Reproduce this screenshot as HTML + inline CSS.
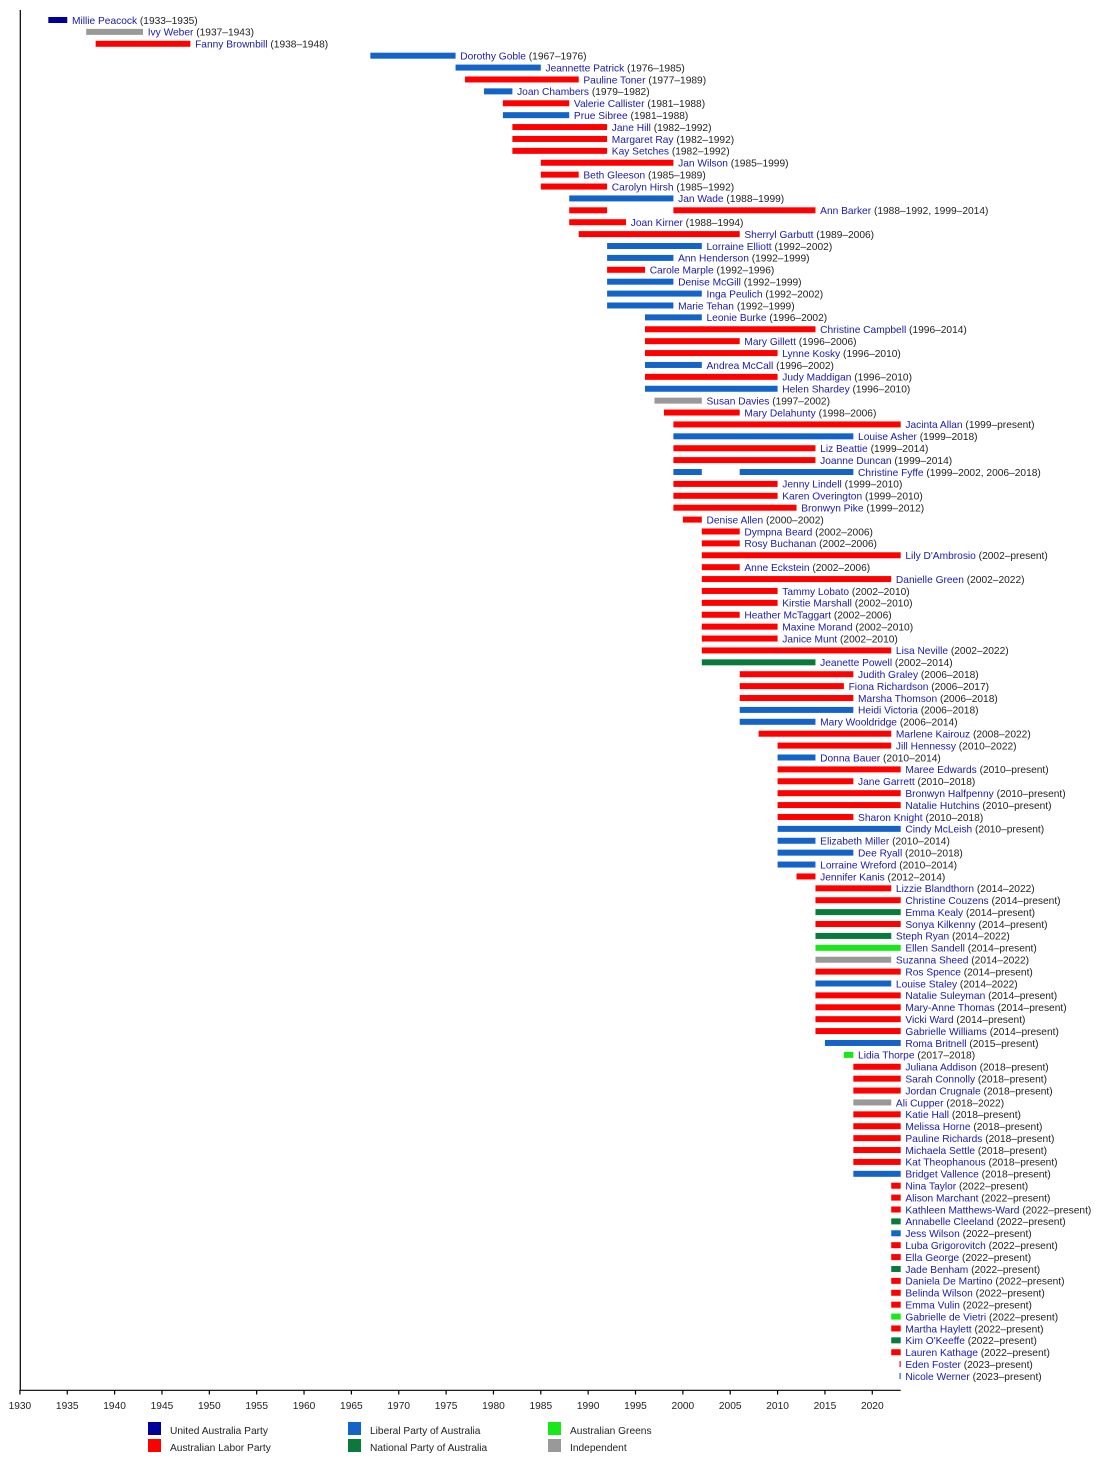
<!DOCTYPE html>
<html><head><meta charset="utf-8"><style>
html,body{margin:0;padding:0;background:#fff}
svg{display:block}
text{font-family:"Liberation Sans",Arial,sans-serif;font-size:10.2px;fill:#222}
.n{fill:#1a1aa8}
.a{fill:#ff0000}.l{fill:#1464c8}.nt{fill:#0a7a3c}.g{fill:#18e818}.i{fill:#999999}.u{fill:#000099}
</style></head><body>
<svg width="1100" height="1470" viewBox="0 0 1100 1470" xmlns="http://www.w3.org/2000/svg">
<rect width="1100" height="1470" fill="#fff"/>
<g>
<g transform="translate(0,20)"><rect class="u" x="48.31" y="-3" width="18.95" height="6"/><text x="71.96" y="3.8"><tspan class="n">Millie Peacock</tspan> (1933–1935)</text></g>
<g transform="translate(0,31.895)"><rect class="i" x="86.20" y="-3" width="56.82" height="6"/><text x="147.72" y="3.8"><tspan class="n">Ivy Weber</tspan> (1937–1943)</text></g>
<g transform="translate(0,43.79)"><rect class="a" x="95.67" y="-3" width="94.71" height="6"/><text x="195.08" y="3.8"><tspan class="n">Fanny Brownbill</tspan> (1938–1948)</text></g>
<g transform="translate(0,55.685)"><rect class="l" x="370.33" y="-3" width="85.24" height="6"/><text x="460.27" y="3.8"><tspan class="n">Dorothy Goble</tspan> (1967–1976)</text></g>
<g transform="translate(0,67.58)"><rect class="l" x="455.57" y="-3" width="85.24" height="6"/><text x="545.51" y="3.8"><tspan class="n">Jeannette Patrick</tspan> (1976–1985)</text></g>
<g transform="translate(0,79.475)"><rect class="a" x="465.04" y="-3" width="113.65" height="6"/><text x="583.39" y="3.8"><tspan class="n">Pauline Toner</tspan> (1977–1989)</text></g>
<g transform="translate(0,91.37)"><rect class="l" x="483.98" y="-3" width="28.41" height="6"/><text x="517.09" y="3.8"><tspan class="n">Joan Chambers</tspan> (1979–1982)</text></g>
<g transform="translate(0,103.265)"><rect class="a" x="502.92" y="-3" width="66.30" height="6"/><text x="573.92" y="3.8"><tspan class="n">Valerie Callister</tspan> (1981–1988)</text></g>
<g transform="translate(0,115.16)"><rect class="l" x="502.92" y="-3" width="66.30" height="6"/><text x="573.92" y="3.8"><tspan class="n">Prue Sibree</tspan> (1981–1988)</text></g>
<g transform="translate(0,127.055)"><rect class="a" x="512.39" y="-3" width="94.71" height="6"/><text x="611.8" y="3.8"><tspan class="n">Jane Hill</tspan> (1982–1992)</text></g>
<g transform="translate(0,138.95)"><rect class="a" x="512.39" y="-3" width="94.71" height="6"/><text x="611.8" y="3.8"><tspan class="n">Margaret Ray</tspan> (1982–1992)</text></g>
<g transform="translate(0,150.845)"><rect class="a" x="512.39" y="-3" width="94.71" height="6"/><text x="611.8" y="3.8"><tspan class="n">Kay Setches</tspan> (1982–1992)</text></g>
<g transform="translate(0,162.74)"><rect class="a" x="540.81" y="-3" width="132.59" height="6"/><text x="678.1" y="3.8"><tspan class="n">Jan Wilson</tspan> (1985–1999)</text></g>
<g transform="translate(0,174.635)"><rect class="a" x="540.81" y="-3" width="37.88" height="6"/><text x="583.39" y="3.8"><tspan class="n">Beth Gleeson</tspan> (1985–1989)</text></g>
<g transform="translate(0,186.53)"><rect class="a" x="540.81" y="-3" width="66.29" height="6"/><text x="611.8" y="3.8"><tspan class="n">Carolyn Hirsh</tspan> (1985–1992)</text></g>
<g transform="translate(0,198.425)"><rect class="l" x="569.22" y="-3" width="104.18" height="6"/><text x="678.1" y="3.8"><tspan class="n">Jan Wade</tspan> (1988–1999)</text></g>
<g transform="translate(0,210.32)"><rect class="a" x="569.22" y="-3" width="37.88" height="6"/><rect class="a" x="673.40" y="-3" width="142.06" height="6"/><text x="820.16" y="3.8"><tspan class="n">Ann Barker</tspan> (1988–1992, 1999–2014)</text></g>
<g transform="translate(0,222.215)"><rect class="a" x="569.22" y="-3" width="56.82" height="6"/><text x="630.74" y="3.8"><tspan class="n">Joan Kirner</tspan> (1988–1994)</text></g>
<g transform="translate(0,234.11)"><rect class="a" x="578.69" y="-3" width="161.01" height="6"/><text x="744.4" y="3.8"><tspan class="n">Sherryl Garbutt</tspan> (1989–2006)</text></g>
<g transform="translate(0,246.005)"><rect class="l" x="607.10" y="-3" width="94.71" height="6"/><text x="706.51" y="3.8"><tspan class="n">Lorraine Elliott</tspan> (1992–2002)</text></g>
<g transform="translate(0,257.9)"><rect class="l" x="607.10" y="-3" width="66.30" height="6"/><text x="678.1" y="3.8"><tspan class="n">Ann Henderson</tspan> (1992–1999)</text></g>
<g transform="translate(0,269.795)"><rect class="a" x="607.10" y="-3" width="37.89" height="6"/><text x="649.69" y="3.8"><tspan class="n">Carole Marple</tspan> (1992–1996)</text></g>
<g transform="translate(0,281.69)"><rect class="l" x="607.10" y="-3" width="66.30" height="6"/><text x="678.1" y="3.8"><tspan class="n">Denise McGill</tspan> (1992–1999)</text></g>
<g transform="translate(0,293.585)"><rect class="l" x="607.10" y="-3" width="94.71" height="6"/><text x="706.51" y="3.8"><tspan class="n">Inga Peulich</tspan> (1992–2002)</text></g>
<g transform="translate(0,305.48)"><rect class="l" x="607.10" y="-3" width="66.30" height="6"/><text x="678.1" y="3.8"><tspan class="n">Marie Tehan</tspan> (1992–1999)</text></g>
<g transform="translate(0,317.375)"><rect class="l" x="644.99" y="-3" width="56.82" height="6"/><text x="706.51" y="3.8"><tspan class="n">Leonie Burke</tspan> (1996–2002)</text></g>
<g transform="translate(0,329.27)"><rect class="a" x="644.99" y="-3" width="170.47" height="6"/><text x="820.16" y="3.8"><tspan class="n">Christine Campbell</tspan> (1996–2014)</text></g>
<g transform="translate(0,341.165)"><rect class="a" x="644.99" y="-3" width="94.71" height="6"/><text x="744.4" y="3.8"><tspan class="n">Mary Gillett</tspan> (1996–2006)</text></g>
<g transform="translate(0,353.06)"><rect class="a" x="644.99" y="-3" width="132.59" height="6"/><text x="782.28" y="3.8"><tspan class="n">Lynne Kosky</tspan> (1996–2010)</text></g>
<g transform="translate(0,364.955)"><rect class="l" x="644.99" y="-3" width="56.82" height="6"/><text x="706.51" y="3.8"><tspan class="n">Andrea McCall</tspan> (1996–2002)</text></g>
<g transform="translate(0,376.85)"><rect class="a" x="644.99" y="-3" width="132.59" height="6"/><text x="782.28" y="3.8"><tspan class="n">Judy Maddigan</tspan> (1996–2010)</text></g>
<g transform="translate(0,388.745)"><rect class="l" x="644.99" y="-3" width="132.59" height="6"/><text x="782.28" y="3.8"><tspan class="n">Helen Shardey</tspan> (1996–2010)</text></g>
<g transform="translate(0,400.64)"><rect class="i" x="654.46" y="-3" width="47.35" height="6"/><text x="706.51" y="3.8"><tspan class="n">Susan Davies</tspan> (1997–2002)</text></g>
<g transform="translate(0,412.535)"><rect class="a" x="663.93" y="-3" width="75.77" height="6"/><text x="744.4" y="3.8"><tspan class="n">Mary Delahunty</tspan> (1998–2006)</text></g>
<g transform="translate(0,424.43)"><rect class="a" x="673.40" y="-3" width="227.30" height="6"/><text x="905.4" y="3.8"><tspan class="n">Jacinta Allan</tspan> (1999–present)</text></g>
<g transform="translate(0,436.325)"><rect class="l" x="673.40" y="-3" width="179.95" height="6"/><text x="858.05" y="3.8"><tspan class="n">Louise Asher</tspan> (1999–2018)</text></g>
<g transform="translate(0,448.22)"><rect class="a" x="673.40" y="-3" width="142.06" height="6"/><text x="820.16" y="3.8"><tspan class="n">Liz Beattie</tspan> (1999–2014)</text></g>
<g transform="translate(0,460.115)"><rect class="a" x="673.40" y="-3" width="142.06" height="6"/><text x="820.16" y="3.8"><tspan class="n">Joanne Duncan</tspan> (1999–2014)</text></g>
<g transform="translate(0,472.01)"><rect class="l" x="673.40" y="-3" width="28.41" height="6"/><rect class="l" x="739.70" y="-3" width="113.65" height="6"/><text x="858.05" y="3.8"><tspan class="n">Christine Fyffe</tspan> (1999–2002, 2006–2018)</text></g>
<g transform="translate(0,483.905)"><rect class="a" x="673.40" y="-3" width="104.18" height="6"/><text x="782.28" y="3.8"><tspan class="n">Jenny Lindell</tspan> (1999–2010)</text></g>
<g transform="translate(0,495.8)"><rect class="a" x="673.40" y="-3" width="104.18" height="6"/><text x="782.28" y="3.8"><tspan class="n">Karen Overington</tspan> (1999–2010)</text></g>
<g transform="translate(0,507.695)"><rect class="a" x="673.40" y="-3" width="123.12" height="6"/><text x="801.22" y="3.8"><tspan class="n">Bronwyn Pike</tspan> (1999–2012)</text></g>
<g transform="translate(0,519.59)"><rect class="a" x="682.87" y="-3" width="18.94" height="6"/><text x="706.51" y="3.8"><tspan class="n">Denise Allen</tspan> (2000–2002)</text></g>
<g transform="translate(0,531.485)"><rect class="a" x="701.81" y="-3" width="37.89" height="6"/><text x="744.4" y="3.8"><tspan class="n">Dympna Beard</tspan> (2002–2006)</text></g>
<g transform="translate(0,543.38)"><rect class="a" x="701.81" y="-3" width="37.89" height="6"/><text x="744.4" y="3.8"><tspan class="n">Rosy Buchanan</tspan> (2002–2006)</text></g>
<g transform="translate(0,555.275)"><rect class="a" x="701.81" y="-3" width="198.89" height="6"/><text x="905.4" y="3.8"><tspan class="n">Lily D'Ambrosio</tspan> (2002–present)</text></g>
<g transform="translate(0,567.17)"><rect class="a" x="701.81" y="-3" width="37.89" height="6"/><text x="744.4" y="3.8"><tspan class="n">Anne Eckstein</tspan> (2002–2006)</text></g>
<g transform="translate(0,579.065)"><rect class="a" x="701.81" y="-3" width="189.42" height="6"/><text x="895.93" y="3.8"><tspan class="n">Danielle Green</tspan> (2002–2022)</text></g>
<g transform="translate(0,590.96)"><rect class="a" x="701.81" y="-3" width="75.77" height="6"/><text x="782.28" y="3.8"><tspan class="n">Tammy Lobato</tspan> (2002–2010)</text></g>
<g transform="translate(0,602.855)"><rect class="a" x="701.81" y="-3" width="75.77" height="6"/><text x="782.28" y="3.8"><tspan class="n">Kirstie Marshall</tspan> (2002–2010)</text></g>
<g transform="translate(0,614.75)"><rect class="a" x="701.81" y="-3" width="37.89" height="6"/><text x="744.4" y="3.8"><tspan class="n">Heather McTaggart</tspan> (2002–2006)</text></g>
<g transform="translate(0,626.645)"><rect class="a" x="701.81" y="-3" width="75.77" height="6"/><text x="782.28" y="3.8"><tspan class="n">Maxine Morand</tspan> (2002–2010)</text></g>
<g transform="translate(0,638.54)"><rect class="a" x="701.81" y="-3" width="75.77" height="6"/><text x="782.28" y="3.8"><tspan class="n">Janice Munt</tspan> (2002–2010)</text></g>
<g transform="translate(0,650.435)"><rect class="a" x="701.81" y="-3" width="189.42" height="6"/><text x="895.93" y="3.8"><tspan class="n">Lisa Neville</tspan> (2002–2022)</text></g>
<g transform="translate(0,662.33)"><rect class="nt" x="701.81" y="-3" width="113.65" height="6"/><text x="820.16" y="3.8"><tspan class="n">Jeanette Powell</tspan> (2002–2014)</text></g>
<g transform="translate(0,674.225)"><rect class="a" x="739.70" y="-3" width="113.65" height="6"/><text x="858.05" y="3.8"><tspan class="n">Judith Graley</tspan> (2006–2018)</text></g>
<g transform="translate(0,686.12)"><rect class="a" x="739.70" y="-3" width="104.18" height="6"/><text x="848.58" y="3.8"><tspan class="n">Fiona Richardson</tspan> (2006–2017)</text></g>
<g transform="translate(0,698.015)"><rect class="a" x="739.70" y="-3" width="113.65" height="6"/><text x="858.05" y="3.8"><tspan class="n">Marsha Thomson</tspan> (2006–2018)</text></g>
<g transform="translate(0,709.91)"><rect class="l" x="739.70" y="-3" width="113.65" height="6"/><text x="858.05" y="3.8"><tspan class="n">Heidi Victoria</tspan> (2006–2018)</text></g>
<g transform="translate(0,721.805)"><rect class="l" x="739.70" y="-3" width="75.76" height="6"/><text x="820.16" y="3.8"><tspan class="n">Mary Wooldridge</tspan> (2006–2014)</text></g>
<g transform="translate(0,733.7)"><rect class="a" x="758.64" y="-3" width="132.59" height="6"/><text x="895.93" y="3.8"><tspan class="n">Marlene Kairouz</tspan> (2008–2022)</text></g>
<g transform="translate(0,745.595)"><rect class="a" x="777.58" y="-3" width="113.65" height="6"/><text x="895.93" y="3.8"><tspan class="n">Jill Hennessy</tspan> (2010–2022)</text></g>
<g transform="translate(0,757.49)"><rect class="l" x="777.58" y="-3" width="37.88" height="6"/><text x="820.16" y="3.8"><tspan class="n">Donna Bauer</tspan> (2010–2014)</text></g>
<g transform="translate(0,769.385)"><rect class="a" x="777.58" y="-3" width="123.12" height="6"/><text x="905.4" y="3.8"><tspan class="n">Maree Edwards</tspan> (2010–present)</text></g>
<g transform="translate(0,781.28)"><rect class="a" x="777.58" y="-3" width="75.77" height="6"/><text x="858.05" y="3.8"><tspan class="n">Jane Garrett</tspan> (2010–2018)</text></g>
<g transform="translate(0,793.175)"><rect class="a" x="777.58" y="-3" width="123.12" height="6"/><text x="905.4" y="3.8"><tspan class="n">Bronwyn Halfpenny</tspan> (2010–present)</text></g>
<g transform="translate(0,805.07)"><rect class="a" x="777.58" y="-3" width="123.12" height="6"/><text x="905.4" y="3.8"><tspan class="n">Natalie Hutchins</tspan> (2010–present)</text></g>
<g transform="translate(0,816.965)"><rect class="a" x="777.58" y="-3" width="75.77" height="6"/><text x="858.05" y="3.8"><tspan class="n">Sharon Knight</tspan> (2010–2018)</text></g>
<g transform="translate(0,828.86)"><rect class="l" x="777.58" y="-3" width="123.12" height="6"/><text x="905.4" y="3.8"><tspan class="n">Cindy McLeish</tspan> (2010–present)</text></g>
<g transform="translate(0,840.755)"><rect class="l" x="777.58" y="-3" width="37.88" height="6"/><text x="820.16" y="3.8"><tspan class="n">Elizabeth Miller</tspan> (2010–2014)</text></g>
<g transform="translate(0,852.65)"><rect class="l" x="777.58" y="-3" width="75.77" height="6"/><text x="858.05" y="3.8"><tspan class="n">Dee Ryall</tspan> (2010–2018)</text></g>
<g transform="translate(0,864.545)"><rect class="l" x="777.58" y="-3" width="37.88" height="6"/><text x="820.16" y="3.8"><tspan class="n">Lorraine Wreford</tspan> (2010–2014)</text></g>
<g transform="translate(0,876.44)"><rect class="a" x="796.52" y="-3" width="18.94" height="6"/><text x="820.16" y="3.8"><tspan class="n">Jennifer Kanis</tspan> (2012–2014)</text></g>
<g transform="translate(0,888.335)"><rect class="a" x="815.46" y="-3" width="75.77" height="6"/><text x="895.93" y="3.8"><tspan class="n">Lizzie Blandthorn</tspan> (2014–2022)</text></g>
<g transform="translate(0,900.23)"><rect class="a" x="815.46" y="-3" width="85.24" height="6"/><text x="905.4" y="3.8"><tspan class="n">Christine Couzens</tspan> (2014–present)</text></g>
<g transform="translate(0,912.125)"><rect class="nt" x="815.46" y="-3" width="85.24" height="6"/><text x="905.4" y="3.8"><tspan class="n">Emma Kealy</tspan> (2014–present)</text></g>
<g transform="translate(0,924.02)"><rect class="a" x="815.46" y="-3" width="85.24" height="6"/><text x="905.4" y="3.8"><tspan class="n">Sonya Kilkenny</tspan> (2014–present)</text></g>
<g transform="translate(0,935.915)"><rect class="nt" x="815.46" y="-3" width="75.77" height="6"/><text x="895.93" y="3.8"><tspan class="n">Steph Ryan</tspan> (2014–2022)</text></g>
<g transform="translate(0,947.81)"><rect class="g" x="815.46" y="-3" width="85.24" height="6"/><text x="905.4" y="3.8"><tspan class="n">Ellen Sandell</tspan> (2014–present)</text></g>
<g transform="translate(0,959.705)"><rect class="i" x="815.46" y="-3" width="75.77" height="6"/><text x="895.93" y="3.8"><tspan class="n">Suzanna Sheed</tspan> (2014–2022)</text></g>
<g transform="translate(0,971.6)"><rect class="a" x="815.46" y="-3" width="85.24" height="6"/><text x="905.4" y="3.8"><tspan class="n">Ros Spence</tspan> (2014–present)</text></g>
<g transform="translate(0,983.495)"><rect class="l" x="815.46" y="-3" width="75.77" height="6"/><text x="895.93" y="3.8"><tspan class="n">Louise Staley</tspan> (2014–2022)</text></g>
<g transform="translate(0,995.39)"><rect class="a" x="815.46" y="-3" width="85.24" height="6"/><text x="905.4" y="3.8"><tspan class="n">Natalie Suleyman</tspan> (2014–present)</text></g>
<g transform="translate(0,1007.285)"><rect class="a" x="815.46" y="-3" width="85.24" height="6"/><text x="905.4" y="3.8"><tspan class="n">Mary-Anne Thomas</tspan> (2014–present)</text></g>
<g transform="translate(0,1019.18)"><rect class="a" x="815.46" y="-3" width="85.24" height="6"/><text x="905.4" y="3.8"><tspan class="n">Vicki Ward</tspan> (2014–present)</text></g>
<g transform="translate(0,1031.075)"><rect class="a" x="815.46" y="-3" width="85.24" height="6"/><text x="905.4" y="3.8"><tspan class="n">Gabrielle Williams</tspan> (2014–present)</text></g>
<g transform="translate(0,1042.97)"><rect class="l" x="824.94" y="-3" width="75.76" height="6"/><text x="905.4" y="3.8"><tspan class="n">Roma Britnell</tspan> (2015–present)</text></g>
<g transform="translate(0,1054.865)"><rect class="g" x="843.88" y="-3" width="9.47" height="6"/><text x="858.05" y="3.8"><tspan class="n">Lidia Thorpe</tspan> (2017–2018)</text></g>
<g transform="translate(0,1066.76)"><rect class="a" x="853.35" y="-3" width="47.35" height="6"/><text x="905.4" y="3.8"><tspan class="n">Juliana Addison</tspan> (2018–present)</text></g>
<g transform="translate(0,1078.655)"><rect class="a" x="853.35" y="-3" width="47.35" height="6"/><text x="905.4" y="3.8"><tspan class="n">Sarah Connolly</tspan> (2018–present)</text></g>
<g transform="translate(0,1090.55)"><rect class="a" x="853.35" y="-3" width="47.35" height="6"/><text x="905.4" y="3.8"><tspan class="n">Jordan Crugnale</tspan> (2018–present)</text></g>
<g transform="translate(0,1102.445)"><rect class="i" x="853.35" y="-3" width="37.88" height="6"/><text x="895.93" y="3.8"><tspan class="n">Ali Cupper</tspan> (2018–2022)</text></g>
<g transform="translate(0,1114.34)"><rect class="a" x="853.35" y="-3" width="47.35" height="6"/><text x="905.4" y="3.8"><tspan class="n">Katie Hall</tspan> (2018–present)</text></g>
<g transform="translate(0,1126.235)"><rect class="a" x="853.35" y="-3" width="47.35" height="6"/><text x="905.4" y="3.8"><tspan class="n">Melissa Horne</tspan> (2018–present)</text></g>
<g transform="translate(0,1138.13)"><rect class="a" x="853.35" y="-3" width="47.35" height="6"/><text x="905.4" y="3.8"><tspan class="n">Pauline Richards</tspan> (2018–present)</text></g>
<g transform="translate(0,1150.025)"><rect class="a" x="853.35" y="-3" width="47.35" height="6"/><text x="905.4" y="3.8"><tspan class="n">Michaela Settle</tspan> (2018–present)</text></g>
<g transform="translate(0,1161.92)"><rect class="a" x="853.35" y="-3" width="47.35" height="6"/><text x="905.4" y="3.8"><tspan class="n">Kat Theophanous</tspan> (2018–present)</text></g>
<g transform="translate(0,1173.815)"><rect class="l" x="853.35" y="-3" width="47.35" height="6"/><text x="905.4" y="3.8"><tspan class="n">Bridget Vallence</tspan> (2018–present)</text></g>
<g transform="translate(0,1185.71)"><rect class="a" x="891.23" y="-3" width="9.47" height="6"/><text x="905.4" y="3.8"><tspan class="n">Nina Taylor</tspan> (2022–present)</text></g>
<g transform="translate(0,1197.605)"><rect class="a" x="891.23" y="-3" width="9.47" height="6"/><text x="905.4" y="3.8"><tspan class="n">Alison Marchant</tspan> (2022–present)</text></g>
<g transform="translate(0,1209.5)"><rect class="a" x="891.23" y="-3" width="9.47" height="6"/><text x="905.4" y="3.8"><tspan class="n">Kathleen Matthews-Ward</tspan> (2022–present)</text></g>
<g transform="translate(0,1221.395)"><rect class="nt" x="891.23" y="-3" width="9.47" height="6"/><text x="905.4" y="3.8"><tspan class="n">Annabelle Cleeland</tspan> (2022–present)</text></g>
<g transform="translate(0,1233.29)"><rect class="l" x="891.23" y="-3" width="9.47" height="6"/><text x="905.4" y="3.8"><tspan class="n">Jess Wilson</tspan> (2022–present)</text></g>
<g transform="translate(0,1245.185)"><rect class="a" x="891.23" y="-3" width="9.47" height="6"/><text x="905.4" y="3.8"><tspan class="n">Luba Grigorovitch</tspan> (2022–present)</text></g>
<g transform="translate(0,1257.08)"><rect class="a" x="891.23" y="-3" width="9.47" height="6"/><text x="905.4" y="3.8"><tspan class="n">Ella George</tspan> (2022–present)</text></g>
<g transform="translate(0,1268.975)"><rect class="nt" x="891.23" y="-3" width="9.47" height="6"/><text x="905.4" y="3.8"><tspan class="n">Jade Benham</tspan> (2022–present)</text></g>
<g transform="translate(0,1280.87)"><rect class="a" x="891.23" y="-3" width="9.47" height="6"/><text x="905.4" y="3.8"><tspan class="n">Daniela De Martino</tspan> (2022–present)</text></g>
<g transform="translate(0,1292.765)"><rect class="a" x="891.23" y="-3" width="9.47" height="6"/><text x="905.4" y="3.8"><tspan class="n">Belinda Wilson</tspan> (2022–present)</text></g>
<g transform="translate(0,1304.66)"><rect class="a" x="891.23" y="-3" width="9.47" height="6"/><text x="905.4" y="3.8"><tspan class="n">Emma Vulin</tspan> (2022–present)</text></g>
<g transform="translate(0,1316.555)"><rect class="g" x="891.23" y="-3" width="9.47" height="6"/><text x="905.4" y="3.8"><tspan class="n">Gabrielle de Vietri</tspan> (2022–present)</text></g>
<g transform="translate(0,1328.45)"><rect class="a" x="891.23" y="-3" width="9.47" height="6"/><text x="905.4" y="3.8"><tspan class="n">Martha Haylett</tspan> (2022–present)</text></g>
<g transform="translate(0,1340.345)"><rect class="nt" x="891.23" y="-3" width="9.47" height="6"/><text x="905.4" y="3.8"><tspan class="n">Kim O'Keeffe</tspan> (2022–present)</text></g>
<g transform="translate(0,1352.24)"><rect class="a" x="891.23" y="-3" width="9.47" height="6"/><text x="905.4" y="3.8"><tspan class="n">Lauren Kathage</tspan> (2022–present)</text></g>
<g transform="translate(0,1364.135)"><rect class="a" x="899.5" y="-3" width="1.2" height="6"/><text x="905.4" y="3.8"><tspan class="n">Eden Foster</tspan> (2023–present)</text></g>
<g transform="translate(0,1376.03)"><rect class="l" x="899.5" y="-3" width="1.2" height="6"/><text x="905.4" y="3.8"><tspan class="n">Nicole Werner</tspan> (2023–present)</text></g>
</g>
<!-- axes -->
<g stroke="#000" stroke-width="1.2" fill="none">
<line x1="20.3" y1="10" x2="20.3" y2="1390.5"/>
<line x1="19.7" y1="1390.3" x2="900.7" y2="1390.3"/>
<line x1="19.9" y1="1390" x2="19.9" y2="1394.5"/>
<line x1="67.26" y1="1390" x2="67.26" y2="1394.5"/>
<line x1="114.61" y1="1390" x2="114.61" y2="1394.5"/>
<line x1="161.97" y1="1390" x2="161.97" y2="1394.5"/>
<line x1="209.32" y1="1390" x2="209.32" y2="1394.5"/>
<line x1="256.68" y1="1390" x2="256.68" y2="1394.5"/>
<line x1="304.03" y1="1390" x2="304.03" y2="1394.5"/>
<line x1="351.39" y1="1390" x2="351.39" y2="1394.5"/>
<line x1="398.74" y1="1390" x2="398.74" y2="1394.5"/>
<line x1="446.10" y1="1390" x2="446.10" y2="1394.5"/>
<line x1="493.45" y1="1390" x2="493.45" y2="1394.5"/>
<line x1="540.81" y1="1390" x2="540.81" y2="1394.5"/>
<line x1="588.16" y1="1390" x2="588.16" y2="1394.5"/>
<line x1="635.52" y1="1390" x2="635.52" y2="1394.5"/>
<line x1="682.87" y1="1390" x2="682.87" y2="1394.5"/>
<line x1="730.23" y1="1390" x2="730.23" y2="1394.5"/>
<line x1="777.58" y1="1390" x2="777.58" y2="1394.5"/>
<line x1="824.94" y1="1390" x2="824.94" y2="1394.5"/>
<line x1="872.29" y1="1390" x2="872.29" y2="1394.5"/>
</g>
<g text-anchor="middle">
<text x="19.9" y="1409">1930</text>
<text x="67.26" y="1409">1935</text>
<text x="114.61" y="1409">1940</text>
<text x="161.97" y="1409">1945</text>
<text x="209.32" y="1409">1950</text>
<text x="256.68" y="1409">1955</text>
<text x="304.03" y="1409">1960</text>
<text x="351.39" y="1409">1965</text>
<text x="398.74" y="1409">1970</text>
<text x="446.10" y="1409">1975</text>
<text x="493.45" y="1409">1980</text>
<text x="540.81" y="1409">1985</text>
<text x="588.16" y="1409">1990</text>
<text x="635.52" y="1409">1995</text>
<text x="682.87" y="1409">2000</text>
<text x="730.23" y="1409">2005</text>
<text x="777.58" y="1409">2010</text>
<text x="824.94" y="1409">2015</text>
<text x="872.29" y="1409">2020</text>
</g>
<!-- legend -->
<rect class="u" x="148" y="1422" width="13" height="13"/>
<rect class="a" x="148" y="1439" width="13" height="13"/>
<rect class="l" x="348" y="1422" width="13" height="13"/>
<rect class="nt" x="348" y="1439" width="13" height="13"/>
<rect class="g" x="548" y="1422" width="13" height="13"/>
<rect class="i" x="548" y="1439" width="13" height="13"/>
<text x="170" y="1434">United Australia Party</text>
<text x="170" y="1451">Australian Labor Party</text>
<text x="370" y="1434">Liberal Party of Australia</text>
<text x="370" y="1451">National Party of Australia</text>
<text x="570" y="1434">Australian Greens</text>
<text x="570" y="1451">Independent</text>
</svg>
</body></html>
